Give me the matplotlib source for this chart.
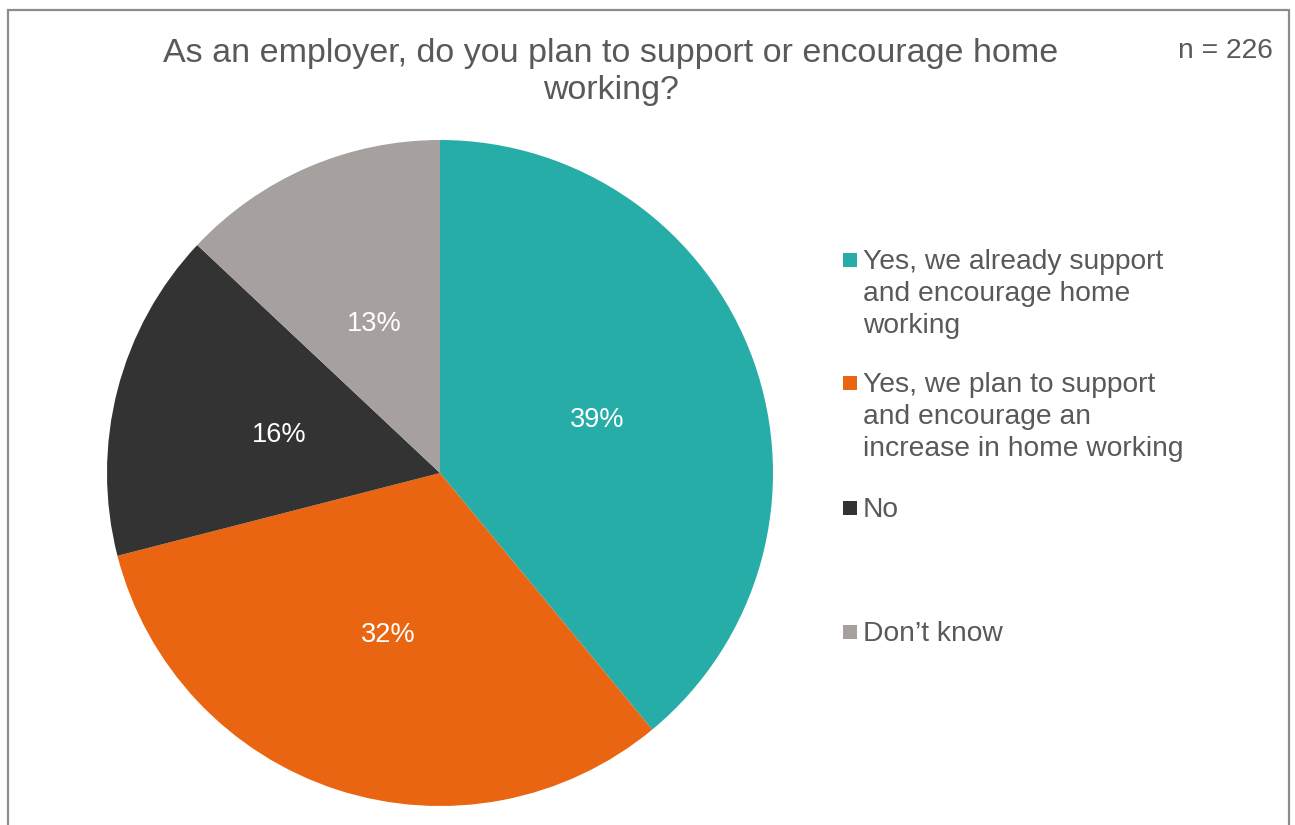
import matplotlib.pyplot as plt
from matplotlib.patches import Rectangle

plt.rcParams['font.family'] = ['Liberation Sans', 'DejaVu Sans']

# Survey answers
labels = ["Yes, we already support\nand encourage home\nworking",
          "Yes, we plan to support\nand encourage an\nincrease in home working",
          "No",
          "Don\u2019t know"]
shares = [39, 32, 16, 13]
colors = ["#27ADA8", "#E96511", "#333333", "#A6A19F"]
title = "As an employer, do you plan to support or encourage home\nworking?"
n_text = "n = 226"

W, H = 1295, 825
fig = plt.figure(figsize=(W / 100, H / 100), dpi=100)
txt_col = "#595959"

# outer frame (bottom edge runs off the image)
fig.patches.append(Rectangle((8 / W, -0.05), 1281 / W, 1.05 - 10 / H,
                             transform=fig.transFigure, fill=False,
                             edgecolor="#8c8c8c", linewidth=1.6))

cx, cy, r = 440, 473, 333
ax = fig.add_axes([(cx - r) / W, (H - cy - r) / H, 2 * r / W, 2 * r / H])
wedges, _, autotexts = ax.pie(shares, colors=colors, startangle=90, counterclock=False,
                              radius=1, autopct="%d%%", pctdistance=0.5,
                              textprops=dict(color="white", fontsize=19.5))
# nudge the percentages down a touch
for t in autotexts:
    x, y = t.get_position()
    t.set_position((x, y - 0.01))
ax.set_xlim(-1, 1)
ax.set_ylim(-1, 1)
ax.axis("off")

fig.text(611 / W, 1 - 72 / H, title, ha="center", va="center", fontsize=24.5,
         color=txt_col, linespacing=1.22)
fig.text(1273 / W, 1 - 51 / H, n_text, ha="right", va="center", fontsize=20.3,
         color=txt_col)

# legend, laid out by hand
legend_y = [260, 383, 508, 632]
for lab, col, y in zip(labels, colors, legend_y):
    fig.patches.append(Rectangle((843 / W, 1 - (y + 7) / H), 14 / W, 14 / H,
                                 transform=fig.transFigure, facecolor=col,
                                 edgecolor="none"))
    fig.text(863 / W, 1 - (y - 11) / H, lab, ha="left", va="top", fontsize=20.3,
             color=txt_col, linespacing=1.3)

fig.savefig("out.png", dpi=100, facecolor="white")
